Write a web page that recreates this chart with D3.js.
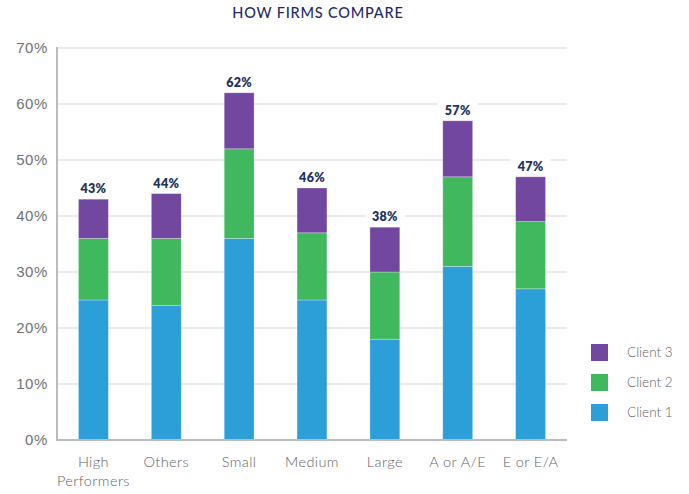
<!DOCTYPE html>
<html>
<head>
<meta charset="utf-8">
<script src="https://cdn.jsdelivr.net/npm/d3@7"></script>
<style>
  body { margin: 0; background: #fff; }
  svg { display: block; font-family: Lato, "Open Sans", sans-serif; }
</style>
</head>
<body>
<svg id="chart" width="689" height="494"></svg>
<script>
// === DATA ======================================================
const categories = ["High Performers", "Others", "Small", "Medium", "Large", "A or A/E", "E or E/A"];
const client1 = [25, 24, 36, 25, 18, 31, 27];
const client2 = [11, 12, 16, 12, 12, 16, 12];
const client3 = [7, 8, 10, 8, 8, 10, 8];
const totalLabels = ["43%", "44%", "62%", "46%", "38%", "57%", "47%"];
const seriesNames = ["Client 1", "Client 2", "Client 3"];
const yTicks = [0, 10, 20, 30, 40, 50, 60, 70];

const colors = { "Client 1": "#2c9fd9", "Client 2": "#40b95e", "Client 3": "#7247a0" };

// === LAYOUT ====================================================
const svg = d3.select("#chart");
const m = { left: 57, right: 567, top: 48, bottom: 440 };

const x = d3.scaleBand()
    .domain(categories)
    .range([m.left, m.right])
    .paddingInner(0.59)
    .paddingOuter(0.295);

const y = d3.scaleLinear().domain([0, 70]).range([m.bottom, m.top]);

const rows = categories.map((c, i) => ({
    cat: c,
    "Client 1": client1[i],
    "Client 2": client2[i],
    "Client 3": client3[i],
    label: totalLabels[i]
}));

const stacked = d3.stack().keys(seriesNames)(rows);

// gridlines
svg.append("g")
    .selectAll("line")
    .data(yTicks.filter(t => t > 0))
    .join("line")
    .attr("x1", m.left).attr("x2", m.right)
    .attr("y1", d => y(d)).attr("y2", d => y(d))
    .attr("stroke", "#d3d5d6").attr("stroke-width", 1);

// y axis
const yAxis = svg.append("g")
    .attr("transform", `translate(${m.left},0)`)
    .call(d3.axisLeft(y).tickValues(yTicks).tickFormat(d => d + "%").tickSize(0).tickPadding(9));
yAxis.select(".domain").remove();
yAxis.selectAll("text")
    .attr("fill", "#6f7375")
    .style("font-size", "15px")
    .style("font-weight", 300)
    .style("letter-spacing", "0.6px");

// bars
svg.append("g")
    .selectAll("g")
    .data(stacked)
    .join("g")
    .attr("fill", d => colors[d.key])
    .selectAll("rect")
    .data(d => d)
    .join("rect")
    .attr("x", d => x(d.data.cat))
    .attr("width", x.bandwidth())
    .attr("y", d => y(d[1]))
    .attr("height", d => y(d[0]) - y(d[1]))
    .attr("stroke", "rgba(255,255,255,0.35)")
    .attr("stroke-width", 0.8);

// axis lines
svg.append("line")
    .attr("x1", m.left).attr("x2", m.left)
    .attr("y1", m.top - 1).attr("y2", m.bottom + 1)
    .attr("stroke", "#b9bdbf").attr("stroke-width", 2);
svg.append("line")
    .attr("x1", m.left - 1).attr("x2", m.right)
    .attr("y1", m.bottom).attr("y2", m.bottom)
    .attr("stroke", "#b9bdbf").attr("stroke-width", 2);

// total labels with white backing
const topLayer = stacked[stacked.length - 1];
const lbl = svg.append("g")
    .selectAll("g")
    .data(topLayer)
    .join("g")
    .attr("transform", d => `translate(${x(d.data.cat) + x.bandwidth() / 2},${y(d[1]) - 6})`);
lbl.append("rect")
    .attr("x", -20).attr("y", -14).attr("width", 40).attr("height", 17)
    .attr("fill", "#fff");
lbl.append("text")
    .attr("text-anchor", "middle")
    .attr("fill", "#1d3560")
    .style("font-size", "12.5px")
    .style("font-weight", 800)
    .style("letter-spacing", "0.3px")
    .text(d => d.data.label);

// x labels
svg.append("g")
    .selectAll("text")
    .data(categories)
    .join("text")
    .attr("x", d => x(d) + x.bandwidth() / 2)
    .attr("y", 467)
    .attr("text-anchor", "middle")
    .attr("fill", "#5f6466")
    .style("font-size", "14.5px")
    .style("font-weight", 300)
    .style("letter-spacing", "0.4px")
    .each(function (d) {
        const words = d === "High Performers" ? ["High", "Performers"] : [d];
        d3.select(this).selectAll("tspan")
            .data(words)
            .join("tspan")
            .attr("x", x(d) + x.bandwidth() / 2)
            .attr("dy", (w, i) => i === 0 ? 0 : 19)
            .text(w => w);
    });

// title
svg.append("text")
    .attr("x", 318).attr("y", 18)
    .attr("text-anchor", "middle")
    .attr("fill", "#1f2a6b")
    .style("font-size", "14.5px")
    .style("font-weight", 500)
    .style("letter-spacing", "0.8px")
    .text("HOW FIRMS COMPARE");

// legend
const legend = svg.append("g")
    .selectAll("g")
    .data(seriesNames.slice().reverse())
    .join("g")
    .attr("transform", (d, i) => `translate(591,${344 + i * 30})`);
legend.append("rect")
    .attr("width", 17).attr("height", 17)
    .attr("fill", d => colors[d]);
legend.append("text")
    .attr("x", 36).attr("y", 13)
    .attr("fill", "#5f6466")
    .style("font-size", "13.5px")
    .style("font-weight", 300)
    .text(d => d);
</script>
</body>
</html>
